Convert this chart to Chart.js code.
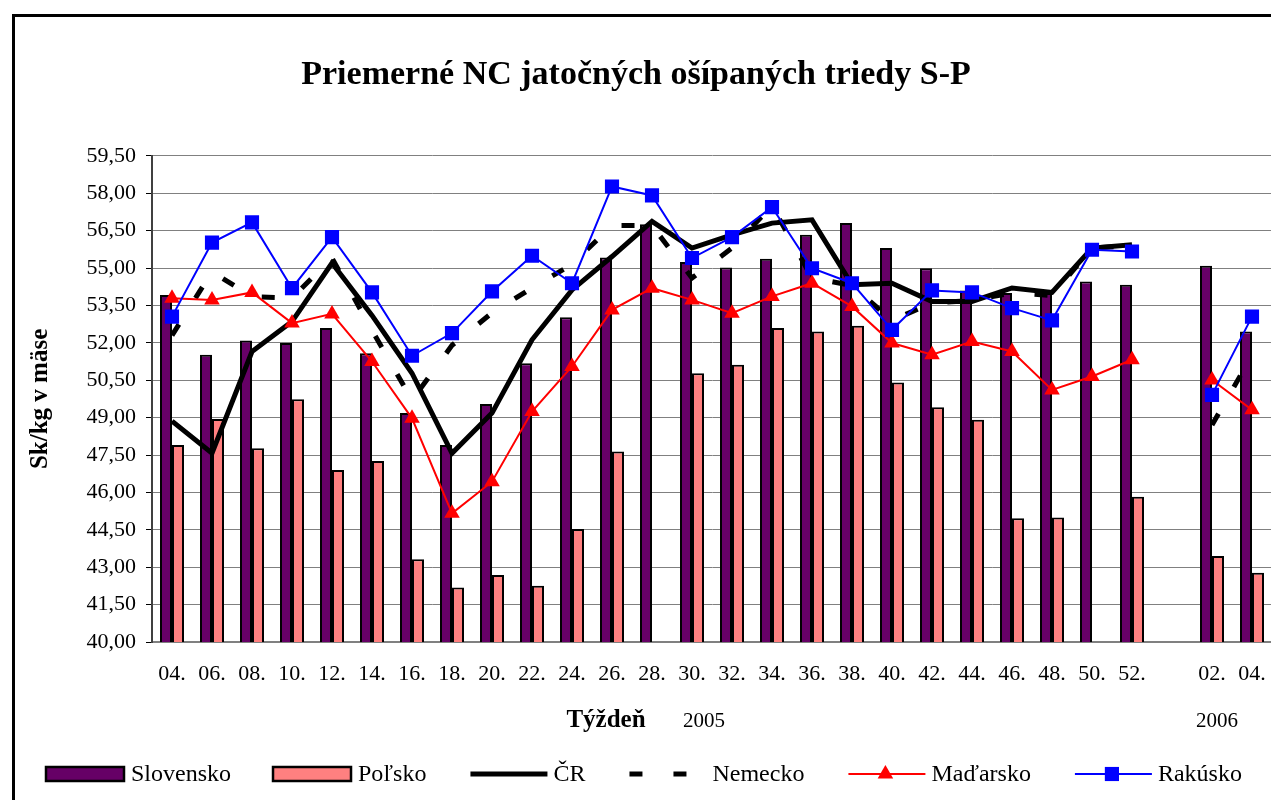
<!DOCTYPE html>
<html>
<head>
<meta charset="utf-8">
<title>Priemerné NC jatočných ošípaných triedy S-P</title>
<script src="https://cdn.jsdelivr.net/npm/chart.js@4.4.1/dist/chart.umd.min.js"></script>
<style>
  html, body { margin: 0; padding: 0; background: #fff; overflow: hidden; }
  #wrap { position: relative; width: 1290px; height: 800px; }
</style>
</head>
<body>
<div id="wrap"><canvas id="priceChart"></canvas></div>
<script>
// weeks 2005 (04.-52.), one empty slot, then weeks 2006
const weeks = ['04.', '06.', '08.', '10.', '12.', '14.', '16.', '18.', '20.', '22.', '24.', '26.', '28.',
               '30.', '32.', '34.', '36.', '38.', '40.', '42.', '44.', '46.', '48.', '50.', '52.',
               '', '02.', '04.'];
const yTicks = [40, 41.5, 43, 44.5, 46, 47.5, 49, 50.5, 52, 53.5, 55, 56.5, 58, 59.5];

const slovensko = [53.92, 51.52, 52.09, 51.99, 52.59, 51.58, 49.18, 47.90, 49.55, 51.18, 53.02, 55.42, 56.75,
                   55.24, 55.02, 55.37, 56.33, 56.80, 55.80, 54.99, 54.10, 54.00, 54.00, 54.46, 54.33,
                   null, 55.09, 52.45];
const polsko = [47.90, 48.94, 47.77, 49.74, 46.90, 47.26, 43.32, 42.19, 42.69, 42.26, 44.53, 47.64, null,
                50.78, 51.12, 52.59, 52.45, 52.68, 50.41, 49.42, 48.91, 44.96, 44.99, null, 45.83,
                null, 43.45, 42.78];
const cr = [48.86, 47.57, 51.65, 52.85, 55.20, 53.10, 50.78, 47.57, 49.18, 52.12, 54.12, 55.46, 56.87,
            55.80, 56.33, 56.80, 56.93, 54.33, 54.39, 53.66, 53.66, 54.20, 54.02, 55.80, 55.93,
            null, null, null];
const nemecko = [52.30, 54.85, 53.85, 53.80, 55.40, 52.50, 49.70, 51.90, 53.20, 54.20, 55.15, 56.70, 56.70,
                 54.60, 55.80, 57.50, 54.60, 54.30, 52.90, 53.60, 53.70, 54.00, 53.90, 55.80, 55.90,
                 null, 48.70, 51.50];
const madarsko = [53.79, 53.72, 54.02, 52.79, 53.16, 51.25, 48.97, 45.16, 46.43, 49.24, 51.05, 53.32, 54.19,
                  53.72, 53.19, 53.86, 54.39, 53.46, 51.99, 51.52, 52.05, 51.65, 50.11, 50.65, 51.32,
                  null, 50.51, 49.31];
const rakusko = [53.05, 56.02, 56.83, 54.19, 56.24, 54.02, 51.48, 52.39, 54.06, 55.49, 54.39, 58.27, 57.91,
                 55.40, 56.24, 57.44, 54.99, 54.39, 52.52, 54.10, 54.02, 53.39, 52.90, 55.73, 55.66,
                 null, 49.91, 53.05];

const serif = '"Liberation Serif", "Times New Roman", serif';

// white background and the black frame round the whole chart
const framePlugin = {
    id: 'frame',
    beforeDraw(chart) {
        const ctx = chart.ctx;
        ctx.save();
        ctx.fillStyle = '#ffffff';
        ctx.fillRect(0, 0, chart.width, chart.height);
        ctx.strokeStyle = '#000000';
        ctx.lineWidth = 3;
        ctx.strokeRect(13.5, 15.5, chart.width + 40, chart.height + 40);
        ctx.restore();
    }
};

// x axis title and the year captions under the weeks
const axisTextPlugin = {
    id: 'axisText',
    afterDraw(chart) {
        const ctx = chart.ctx;
        const x = chart.scales.x;
        ctx.save();
        ctx.fillStyle = '#000000';
        ctx.textAlign = 'center';
        ctx.textBaseline = 'alphabetic';
        ctx.font = 'bold 25px ' + serif;
        ctx.fillText('Týždeň', 606, 727);
        ctx.font = '21px ' + serif;
        ctx.fillText('2005', x.getPixelForValue(13) + 12, 727);
        ctx.fillText('2006', x.getPixelForValue(26) + 5, 727);
        ctx.restore();
    }
};

// legend in one row at the bottom, drawn like the spreadsheet legend
const legendPlugin = {
    id: 'sheetLegend',
    afterDraw(chart) {
        const ctx = chart.ctx;
        const y = 774;
        let x = 45;
        ctx.save();
        ctx.font = '24px ' + serif;
        ctx.textBaseline = 'middle';
        chart.data.datasets.forEach(ds => {
            if (ds.type === 'bar') {
                ctx.fillStyle = ds.backgroundColor;
                ctx.fillRect(x, y - 8, 80, 16);
                ctx.lineWidth = 2.5;
                ctx.strokeStyle = '#000000';
                ctx.strokeRect(x + 1, y - 7, 78, 14);
            } else {
                ctx.strokeStyle = ds.borderColor;
                ctx.lineWidth = ds.borderWidth;
                ctx.setLineDash(ds.borderDash || []);
                ctx.lineCap = 'butt';
                ctx.beginPath();
                ctx.moveTo(x + 3, y);
                ctx.lineTo(x + 80, y);
                ctx.stroke();
                ctx.setLineDash([]);
                if (ds.pointRadius > 0) {
                    ctx.fillStyle = ds.pointBackgroundColor;
                    Chart.helpers.drawPoint(ctx, {
                        pointStyle: ds.pointStyle, radius: ds.pointRadius, rotation: 0, borderWidth: 0
                    }, x + 40, y);
                }
            }
            x += 86;
            ctx.fillStyle = '#000000';
            ctx.fillText(ds.label, x, y + 1);
            x += ctx.measureText(ds.label).width + 41;
        });
        ctx.restore();
    }
};

new Chart(document.getElementById('priceChart'), {
    type: 'bar',
    data: {
        labels: weeks,
        datasets: [
            {
                type: 'bar',
                label: 'Slovensko',
                data: slovensko,
                backgroundColor: '#660066',
                borderColor: '#000000',
                borderWidth: 2,
                borderSkipped: false,
                order: 5
            },
            {
                type: 'bar',
                label: 'Poľsko',
                data: polsko,
                backgroundColor: '#FF8080',
                borderColor: '#000000',
                borderWidth: 2,
                borderSkipped: false,
                order: 6
            },
            {
                type: 'line',
                label: 'ČR',
                data: cr,
                borderColor: '#000000',
                borderWidth: 5,
                pointRadius: 0,
                tension: 0,
                order: 4
            },
            {
                type: 'line',
                label: 'Nemecko',
                data: nemecko,
                borderColor: '#000000',
                borderWidth: 5,
                borderDash: [13, 31],
                borderCapStyle: 'butt',
                pointRadius: 0,
                tension: 0,
                order: 3
            },
            {
                type: 'line',
                label: 'Maďarsko',
                data: madarsko,
                borderColor: '#FF0000',
                borderWidth: 2,
                pointStyle: 'triangle',
                pointRadius: 9,
                pointBackgroundColor: '#FF0000',
                pointBorderWidth: 0,
                tension: 0,
                order: 2
            },
            {
                type: 'line',
                label: 'Rakúsko',
                data: rakusko,
                borderColor: '#0000FF',
                borderWidth: 2,
                pointStyle: 'rect',
                pointRadius: 10,
                pointBackgroundColor: '#0000FF',
                pointBorderWidth: 0,
                tension: 0,
                order: 1
            }
        ]
    },
    options: {
        responsive: true,
        maintainAspectRatio: false,
        animation: false,
        events: [],
        datasets: {
            bar: {
                categoryPercentage: 0.6,
                barPercentage: 1.0
            }
        },
        layout: {
            padding: { left: 0, right: 18, top: 0, bottom: 100 }
        },
        plugins: {
            legend: { display: false },
            tooltip: { enabled: false },
            title: {
                display: true,
                text: 'Priemerné NC jatočných ošípaných triedy S-P',
                color: '#000000',
                font: { family: serif, size: 34, weight: 'bold' },
                padding: { top: 55, bottom: 60 }
            }
        },
        scales: {
            x: {
                grid: { display: false, drawTicks: false },
                border: { color: '#808080', width: 2 },
                ticks: {
                    color: '#000000',
                    font: { family: serif, size: 22 },
                    padding: 19,
                    maxRotation: 0,
                    autoSkip: false
                },
                afterFit: scale => { scale.height = 58; }
            },
            y: {
                min: 40,
                max: 59.5,
                afterBuildTicks: scale => { scale.ticks = yTicks.map(v => ({ value: v })); },
                grid: { color: '#808080', lineWidth: 1, tickLength: 6, tickColor: '#000000' },
                border: { color: '#404040', width: 2 },
                ticks: {
                    color: '#000000',
                    font: { family: serif, size: 22 },
                    padding: 10,
                    callback: v => v.toFixed(2).replace('.', ',')
                },
                title: {
                    display: true,
                    text: 'Sk/kg v mäse',
                    color: '#000000',
                    font: { family: serif, size: 25, weight: 'bold' },
                    padding: { top: 26, bottom: 0 }
                },
                afterFit: scale => { scale.width = 152; }
            }
        }
    },
    plugins: [framePlugin, axisTextPlugin, legendPlugin]
});
</script>
</body>
</html>
